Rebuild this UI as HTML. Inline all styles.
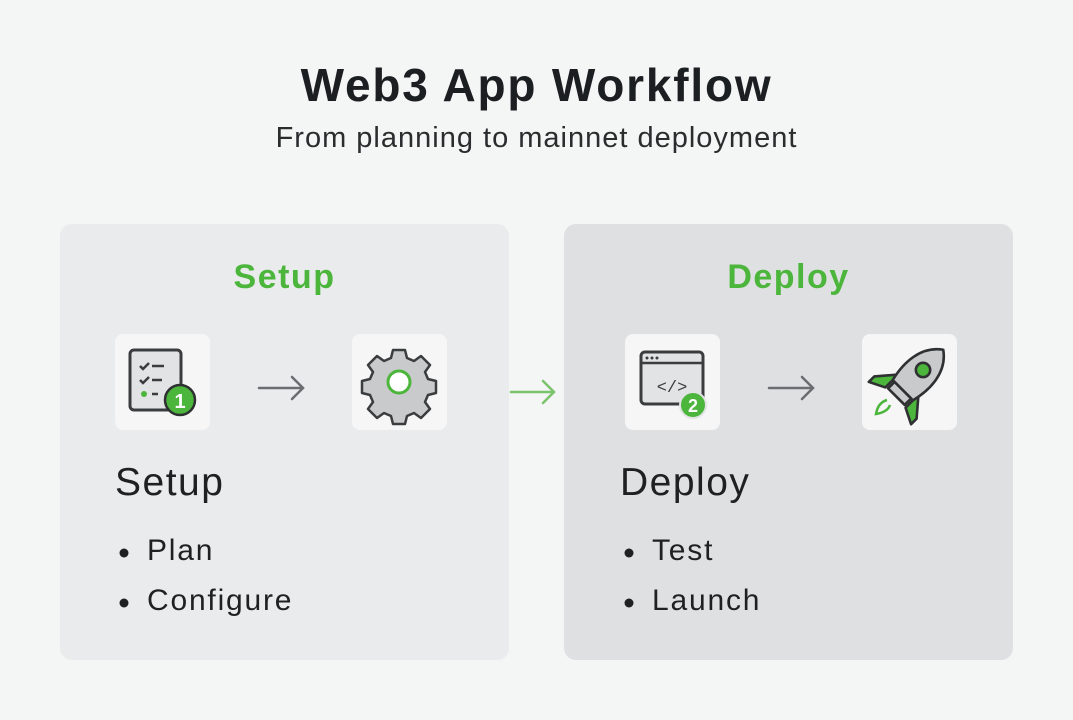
<!DOCTYPE html>
<html><head><style>
body{margin:0;width:1073px;height:720px;background:#f4f5f5;font-family:"Liberation Sans",sans-serif;position:relative;overflow:hidden;color:#1e2022}
.a{position:absolute}
.panel{position:absolute;top:224px;width:449px;height:436px;border-radius:12px}
.tile{position:absolute;width:95px;height:96px;background:#f6f6f7;border-radius:8px}
.sec{position:absolute;width:449px;text-align:center;top:258px;font-size:34px;letter-spacing:1.5px;font-weight:bold;color:#4cb53c}
.h{position:absolute;font-size:39px;letter-spacing:1.5px;top:461px}
.b{position:absolute;font-size:30px;letter-spacing:1.8px}
</style></head><body>
<div class="a" style="left:0;width:1073px;text-align:center;top:58px;font-size:46px;letter-spacing:1.8px;font-weight:bold;color:#1c1f22">Web3 App Workflow</div>
<div class="a" style="left:0;width:1073px;text-align:center;top:122px;font-size:29px;letter-spacing:1px;color:#2a2c2e">From planning to mainnet deployment</div>

<div class="panel" style="left:60px;background:#eaebec"></div>
<div class="panel" style="left:564px;background:#dfe0e2"></div>
<div class="sec" style="left:60px">Setup</div>
<div class="sec" style="left:564px">Deploy</div>

<div class="tile" style="left:115px;top:334px"></div>
<div class="tile" style="left:352px;top:334px"></div>
<div class="tile" style="left:625px;top:334px"></div>
<div class="tile" style="left:862px;top:334px"></div>

<svg class="a" style="left:0;top:0" width="1073" height="720">
<rect x="130" y="350" width="51" height="60" rx="4" fill="#e2e3e4" stroke="#3a3c3e" stroke-width="3"/>
<g stroke="#3a3c3e" stroke-width="2.5" fill="none">
<path d="M140 366l3 3 6-6M152 366h12M140 380l3 3 6-6M152 380h10M152 394h6"/></g>
<circle cx="144" cy="394" r="3" fill="#4cb53c"/>
<circle cx="180" cy="400" r="15" fill="#4cb53c" stroke="#2e3032" stroke-width="2.5"/>
<text x="180" y="408" text-anchor="middle" font-size="20" font-weight="bold" fill="#fff" font-family="Liberation Sans">1</text>
<g transform="translate(399,382)">
<path d="M-6,-32 h12 l2,8 l7,3 l7,-5 l9,9 l-5,7 l3,7 l8,2 v12 l-8,2 l-3,7 l5,7 l-9,9 l-7,-5 l-7,3 l-2,8 h-12 l-2,-8 l-7,-3 l-7,5 l-9,-9 l5,-7 l-3,-7 l-8,-2 v-12 l8,-2 l3,-7 l-5,-7 l9,-9 l7,5 l7,-3z" fill="#c9cacc" stroke="#3a3c3e" stroke-width="2.5" stroke-linejoin="round"/>
<circle r="11" fill="#fff" stroke="#4cb53c" stroke-width="3"/></g>
<rect x="641" y="352" width="62" height="52" rx="4" fill="#e2e3e4" stroke="#3a3c3e" stroke-width="3"/>
<line x1="641" y1="363" x2="703" y2="363" stroke="#3a3c3e" stroke-width="2.5"/>
<g fill="#3a3c3e"><circle cx="647" cy="358" r="1.5"/><circle cx="652" cy="358" r="1.5"/><circle cx="657" cy="358" r="1.5"/></g>
<text x="672" y="392" text-anchor="middle" font-size="17" fill="#3a3c3e" font-family="Liberation Mono">&lt;/&gt;</text>
<circle cx="693" cy="405" r="13" fill="#4cb53c" stroke="#e2e3e4" stroke-width="2"/>
<text x="693" y="412" text-anchor="middle" font-size="18" font-weight="bold" fill="#fff" font-family="Liberation Sans">2</text>
<g transform="translate(912,381) scale(1.3) rotate(45)" stroke="#2e3032" stroke-width="2" stroke-linejoin="round">
<path d="M-11 4 l-12 14 v6 l12 -6z" fill="#4cb53c"/>
<path d="M11 4 l12 14 v6 l-12 -6z" fill="#4cb53c"/>
<path d="M0 -34 c14 10 15 28 11 44 h-22 c-4 -16 -3 -34 11 -44z" fill="#c9cacc"/>
<rect x="-9" y="10" width="18" height="7" fill="#c9cacc"/>
<circle cx="0" cy="-12" r="5.5" fill="#4cb53c"/>
</g>
<path d="M887 400 c-7 2 -10 8 -11 14 c6 -1 12 -3 14 -9" fill="none" stroke="#4cb53c" stroke-width="2.5"/>
<g fill="none" stroke-width="2.5" stroke-linecap="round">
<path d="M259 388h43M292 377l11 11-11 11" stroke="#6b6d70"/>
<path d="M769 388h43M802 377l11 11-11 11" stroke="#6b6d70"/>
<path d="M511 392h42M543 381l11 11-11 11" stroke="#7cc46c"/>
</g>
<g fill="#1e2022"><circle cx="124" cy="553" r="4.5"/><circle cx="124" cy="603" r="4.5"/><circle cx="629" cy="553" r="4.5"/><circle cx="629" cy="603" r="4.5"/></g>
</svg>

<div class="h" style="left:115px">Setup</div>
<div class="h" style="left:620px">Deploy</div>
<div class="b" style="left:147px;top:534px">Plan</div>
<div class="b" style="left:147px;top:584px">Configure</div>
<div class="b" style="left:652px;top:534px">Test</div>
<div class="b" style="left:652px;top:584px">Launch</div>
</body></html>
